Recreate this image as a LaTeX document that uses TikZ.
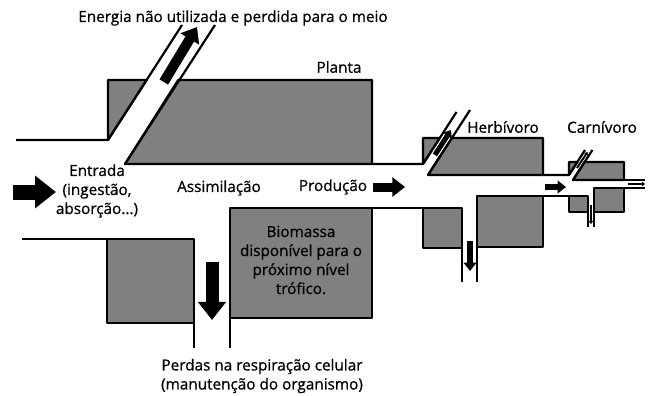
\documentclass[tikz,border=0pt]{standalone}
\usepackage{fontspec}
\setmainfont{Open Sans}[UprightFeatures={FakeBold=0.8}]
\usetikzlibrary{arrows.meta}
\begin{document}
\begin{tikzpicture}[x=1pt,y=-1pt]
		\tikzset{wall/.style = {draw,line width=2.2pt,line join=round}}
		\tikzset{tissue/.style = {wall,fill=gray}}
		\tikzset{label/.style = {font=\fontsize{15.3}{19}\selectfont,align=center}}
		\tikzset{flow/.style = {line width=#1,-{Triangle[length=1.4*#1,width=2.1*#1]}}}
		\useasboundingbox (0,0) rectangle (651,396);
		% planta
		\path[tissue] (108,140) -- (108,80) -- (146.7,80) -- cycle;
		\path[tissue] (178.2,80) -- (372,80) -- (372,164) -- (125,164) -- cycle;
		\path[tissue] (107,239) rectangle (194,323);
		\path[tissue] (230,208) rectangle (372,318);
		\path[wall] (16,140) -- (108,140) -- (182,25);
		\path[wall] (125,164) -- (215,25);
		\path[wall] (22,239) -- (107,239);
		\path[wall] (194,239) -- (194,348);
		\path[wall] (230,318) -- (230,348);
		% herbivoro
		\path[tissue] (423,164) -- (423,138) -- (439.8,138) -- cycle;
		\path[tissue] (451.9,138) -- (543,138) -- (543,175) -- (428,175) -- cycle;
		\path[tissue] (423,208) rectangle (462,248);
		\path[tissue] (477,196) rectangle (543,247);
		\path[wall] (372,164) -- (423,164) -- (456.5,112);
		\path[wall] (428,175) -- (470,110);
		\path[wall] (372,208) -- (423,208);
		\path[wall] (462,248) -- (462,282);
		\path[wall] (477,247) -- (477,282);
		% carnivoro
		\path[tissue] (569,175) -- (569,162) -- (577.3,162) -- cycle;
		\path[tissue] (584.6,162) -- (624,162) -- (624,180) -- (573,180) -- cycle;
		\path[tissue] (569,196) rectangle (588,212);
		\path[tissue] (594,188) rectangle (624,212);
		\path[wall] (543,175) -- (569,175) -- (585,150);
		\path[wall] (573,180) -- (592.4,150);
		\path[wall] (543,196) -- (569,196);
		\path[wall] (624,180) -- (645,180);
		\path[wall] (624,188) -- (645,188);
		\path[wall] (588,212) -- (588,227);
		\path[wall] (594,212) -- (594,227);
		% fluxos
		\draw[flow=15pt] (13,192) -- (56,192);
		\draw[flow=10pt] (163.8,82) -- (197,27);
		\draw[flow=9pt] (373,187) -- (405,187);
		\draw[flow=13pt] (212,262) -- (212,320);
		\draw[flow=5pt] (434.9,155) -- (451,130);
		\draw[flow=6pt] (545,187) -- (566,187);
		\draw[flow=6pt] (470,241) -- (470,271);
		\draw[flow=2pt] (577,168) -- (587.5,152);
		\draw[flow=2pt] (628,184) -- (645,184);
		\draw[flow=2pt] (591,205) -- (591,224);
		% textos
		\node[label] (energia) at (233,18) {Energia não utilizada e perdida para o meio};
		\node[label] (planta) at (339,67) {Planta};
		\node[label] (entrada) at (97,191) {Entrada\\(ingestão,\\absorção...)};
		\node[label] (assim) at (219,188) {Assimilação};
		\node[label] (producao) at (333,187) {Produção};
		\node[label] (biomassa) at (301,260) {Biomassa\\disponível para o\\próximo nível\\trófico.};
		\node[label] (perdas) at (262,376) {Perdas na respiração celular\\(manutenção do organismo)};
		\node[label] (herb) at (503,127) {Herbívoro};
		\node[label] (carn) at (602,127) {Carnívoro};
	\end{tikzpicture}
\end{document}
